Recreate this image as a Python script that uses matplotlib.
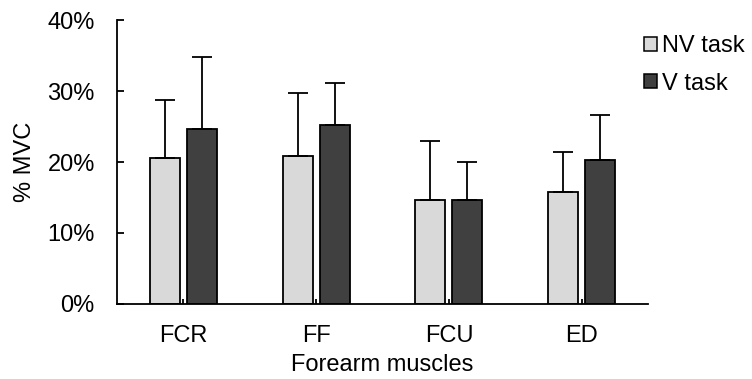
import matplotlib
matplotlib.use("Agg")
import matplotlib.pyplot as plt
import numpy as np
from matplotlib.ticker import PercentFormatter

plt.rcParams['font.family'] = ['Liberation Sans', 'DejaVu Sans']

categories = ["FCR", "FF", "FCU", "ED"]
nv_task = [20.6, 20.9, 14.7, 15.8]
v_task = [24.6, 25.2, 14.7, 20.3]
nv_err = [8.2, 8.8, 8.2, 5.6]
v_err = [10.2, 5.9, 5.3, 6.3]
series_labels = ["NV task", "V task"]

FS = 17
LW = 1.3

fig = plt.figure(figsize=(7.52, 3.79), dpi=100)
ax = fig.add_axes([0.1556, 0.1979, 0.7061, 0.7493])

x = np.arange(len(categories))
w = 0.226
off = 0.14
err_kw = dict(ecolor='black', elinewidth=LW, capsize=7.5, capthick=LW)
ax.bar(x - off, nv_task, w, color='#D9D9D9', edgecolor='black', linewidth=LW,
       yerr=[np.zeros(len(nv_err)), nv_err], error_kw=err_kw, label=series_labels[0], zorder=2)
ax.bar(x + off, v_task, w, color='#404040', edgecolor='black', linewidth=LW,
       yerr=[np.zeros(len(v_err)), v_err], error_kw=err_kw, label=series_labels[1], zorder=2)

ax.set_xlim(-0.5, len(categories) - 0.5)
ax.set_ylim(0, 40)
ax.set_yticks([0, 10, 20, 30, 40])
ax.yaxis.set_major_formatter(PercentFormatter(decimals=0))
ax.set_xticks(x)
ax.set_xticklabels(categories)

ax.spines['top'].set_visible(False)
ax.spines['right'].set_visible(False)
ax.spines['left'].set_linewidth(LW)
ax.spines['bottom'].set_linewidth(LW)

ax.tick_params(axis='y', direction='in', length=5, width=LW, labelsize=FS, pad=16)
ax.tick_params(axis='x', direction='in', length=3.5, width=LW, labelsize=FS, pad=15)

ax.set_ylabel("% MVC", fontsize=FS, labelpad=8)
ax.set_xlabel("Forearm muscles", fontsize=FS, labelpad=5)

leg = fig.legend(loc='upper left', bbox_to_anchor=(0.857, 0.907), frameon=False,
                 fontsize=FS, handlelength=0.52, handleheight=0.55, handletextpad=0.22,
                 labelspacing=0.65, borderaxespad=0, borderpad=0)
for h in leg.legend_handles:
    h.set_linewidth(1.1)

fig.savefig("out.png", dpi=100)
